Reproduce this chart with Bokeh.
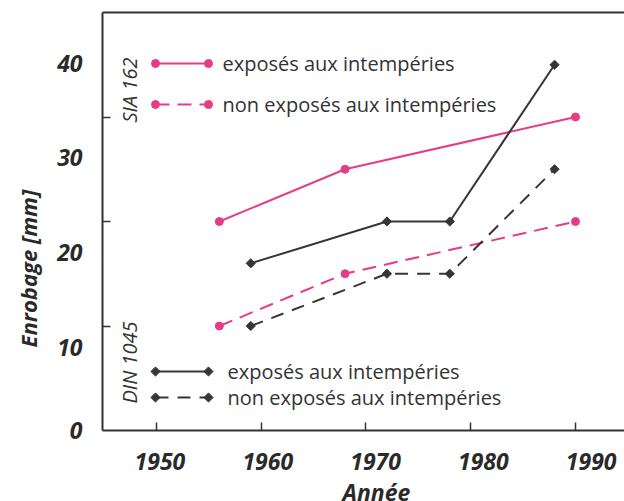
import math
from bokeh.plotting import figure
from bokeh.models import Range1d, LinearAxis, FixedTicker, Title
from bokeh.core.properties import value
from bokeh.embed import file_html
from bokeh.resources import INLINE

# ---------------- data ----------------
years_sia = [1956, 1968, 1990]
cover_sia_exposed = [20, 25, 30]
cover_sia_sheltered = [10, 15, 20]

years_din = [1959, 1972, 1978, 1988]
cover_din_exposed = [16, 20, 20, 35]
cover_din_sheltered = [10, 15, 15, 25]

x_ticks = [1950, 1960, 1970, 1980, 1990]
y_ticks = [10, 20, 30]
y_tick_labels = [0, 10, 20, 30, 40]

legend_labels = ["exposés aux intempéries", "non exposés aux intempéries"]
norm_labels = ["SIA 162", "DIN 1045"]
x_title = "Année"
y_title = "Enrobage  [mm]"

# ---------------- layout ----------------
PINK = "#e63c86"
DARK = "#3a3434"
AX = "#333333"
TXT = "#2a2a2a"
FONT = "Open Sans"

FL, FT = 102, 12         # frame left / top borders
FW, FH = 522, 418        # frame size
W, H = FL + FW, 520
X0, X1 = 1944.845, 1944.845 + FW / 10.475
Y0, Y1 = 0, 40
LAB_Y0 = 1.285           # label scale value at the frame bottom
LAB_X0 = 1944.67
LAB_X1 = LAB_X0 + FW / 10.78


def px2x(px):
    return X0 + (px - 102) / 10.475


def py2y(py):
    return (430 - py) / 10.45


p = figure(width=W, height=H, output_backend="svg", toolbar_location=None,
           x_range=Range1d(X0, X1), y_range=Range1d(Y0, Y1),
           min_border_left=FL, min_border_top=FT, min_border_right=0,
           min_border_bottom=H - FT - FH, x_axis_type=None, y_axis_type=None)
p.outline_line_color = None
p.grid.visible = False
p.background_fill_color = "white"
p.border_fill_color = "white"

tick_style = dict(major_tick_in=8, major_tick_out=0, minor_tick_line_color=None,
                  major_label_text_font_size="1px", major_label_text_color=None,
                  major_label_standoff=0, axis_line_width=2, axis_line_color=AX,
                  major_tick_line_color=AX, major_tick_line_width=1.5)
# tick axes (marks only)
p.add_layout(LinearAxis(ticker=FixedTicker(ticks=x_ticks), **tick_style), "below")
p.add_layout(LinearAxis(ticker=FixedTicker(ticks=y_ticks), **tick_style), "left")
top_style = dict(tick_style)
top_style.update(major_tick_in=0)
p.add_layout(LinearAxis(ticker=FixedTicker(ticks=[]), **top_style), "above")

# label axes (labels only, printed slightly off the tick marks as in the original)
p.extra_x_ranges = {"xlab": Range1d(LAB_X0, LAB_X1)}
p.extra_y_ranges = {"ylab": Range1d(LAB_Y0, 45.33)}
lab_style = dict(major_tick_in=0, major_tick_out=0, minor_tick_line_color=None,
                 axis_line_color=None, major_label_text_font=FONT,
                 major_label_text_font_style="bold italic",
                 major_label_text_font_size="23px", major_label_text_color=TXT)
xl = LinearAxis(x_range_name="xlab", ticker=FixedTicker(ticks=x_ticks),
                major_label_standoff=22, **lab_style)
p.add_layout(xl, "below")
y_lab_pos = [LAB_Y0] + y_tick_labels[1:]
yl = LinearAxis(y_range_name="ylab", ticker=FixedTicker(ticks=y_lab_pos),
                major_label_overrides={LAB_Y0: str(y_tick_labels[0])},
                major_label_standoff=20, **lab_style)
p.add_layout(yl, "left")

p.add_layout(Title(text=y_title, align="left", offset=83, standoff=19,
                   vertical_align="top",
                   text_font=FONT, text_font_style="bold italic",
                   text_font_size="22px", text_color=TXT), "left")
p.add_layout(Title(text=x_title, align="left", offset=240, standoff=2,
                   text_font=FONT, text_font_style="bold italic",
                   text_font_size="23px", text_color=TXT), "below")

# ---------------- data series ----------------
p.line(years_sia, cover_sia_exposed, line_color=PINK, line_width=2)
p.scatter(years_sia, cover_sia_exposed, marker="circle", size=8, color=PINK)
p.line(years_sia, cover_sia_sheltered, line_color=PINK, line_width=2, line_dash="14 8")
p.scatter(years_sia, cover_sia_sheltered, marker="circle", size=8, color=PINK)

p.line(years_din, cover_din_exposed, line_color=DARK, line_width=2)
p.scatter(years_din, cover_din_exposed, marker="square", angle=math.pi / 4, size=6.5, color=DARK)
p.line(years_din, cover_din_sheltered, line_color=DARK, line_width=2, line_dash="13 9")
p.scatter(years_din, cover_din_sheltered, marker="square", angle=math.pi / 4, size=6.5, color=DARK)

# ---------------- legends ----------------
lx = [px2x(155), px2x(208)]
rows_top = [py2y(63), py2y(104)]
rows_bot = [py2y(371), py2y(397)]

for i, dash in enumerate(["solid", "14 8"]):
    yy = [rows_top[i], rows_top[i]]
    p.line(lx, yy, line_color=PINK, line_width=2, line_dash=dash)
    p.scatter(lx, yy, marker="circle", size=8, color=PINK)
    p.text([px2x(222)], [rows_top[i]], text=[legend_labels[i]], text_font=value(FONT),
           text_font_size="20px", text_baseline="middle", text_color="#333333")
for i, dash in enumerate(["solid", "13 9"]):
    yy = [rows_bot[i], rows_bot[i]]
    p.line(lx, yy, line_color=DARK, line_width=2, line_dash=dash)
    p.scatter(lx, yy, marker="square", angle=math.pi / 4, size=6.5, color=DARK)
    p.text([px2x(227)], [rows_bot[i]], text=[legend_labels[i]], text_font=value(FONT),
           text_font_size="20px", text_baseline="middle", text_color="#333333")

p.text([px2x(128.5)], [py2y(122)], text=[norm_labels[0]], angle=math.pi / 2,
       text_font=value(FONT), text_font_style="italic", text_font_size="20px",
       text_align="left", text_baseline="middle", text_color="#333333")
p.text([px2x(129)], [py2y(403)], text=[norm_labels[1]], angle=math.pi / 2,
       text_font=value(FONT), text_font_style="italic", text_font_size="20px",
       text_align="left", text_baseline="middle", text_color="#333333")

open("out.html", "w").write(file_html(p, INLINE))
